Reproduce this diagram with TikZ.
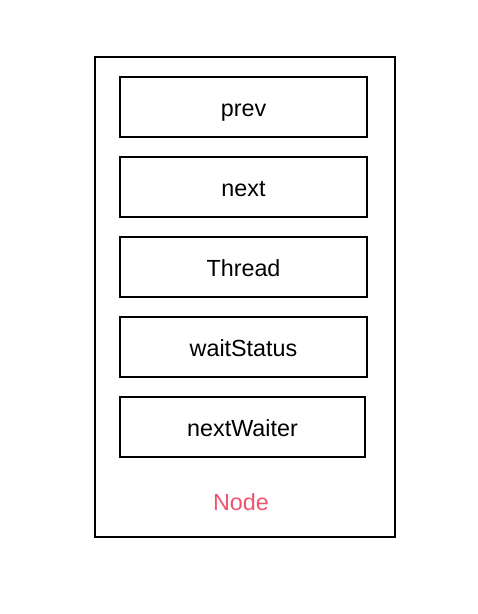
\documentclass[tikz,border=0pt]{standalone}
\usepackage{fontspec}
\setmainfont{Liberation Sans}
\usetikzlibrary{positioning}
\definecolor{nodered}{RGB}{239,83,109}
\begin{document}
\begin{tikzpicture}[x=0.75pt, y=-0.75pt, node distance=13.5pt, line width=1.5pt]
      \tikzset{
	  field/.style={draw=black, minimum width=185.25pt, minimum height=45pt, inner sep=0pt, text centered, text height=14pt, text depth=0.5pt, font=\fontsize{17.5}{20}\selectfont}
      }
      \useasboundingbox (0,0) rectangle (478,614);
      \draw (95,57) rectangle (395,537);

      \node [field] (prev) at (243.5,107) {prev};
      \node [field, below=of prev] (next) {next};
      \node [field, below=of next] (thread) {Thread};
      \node [field, below=of thread] (waitstatus) {waitStatus};
      \node [field, below=of waitstatus, minimum width=183.75pt, xshift=-0.75pt] (nextwaiter) {nextWaiter};

      \node [text=nodered, text height=14pt, text depth=0.5pt, font=\fontsize{17.5}{20}\selectfont] (label) at (241,501) {Node};
    \end{tikzpicture}
\end{document}
